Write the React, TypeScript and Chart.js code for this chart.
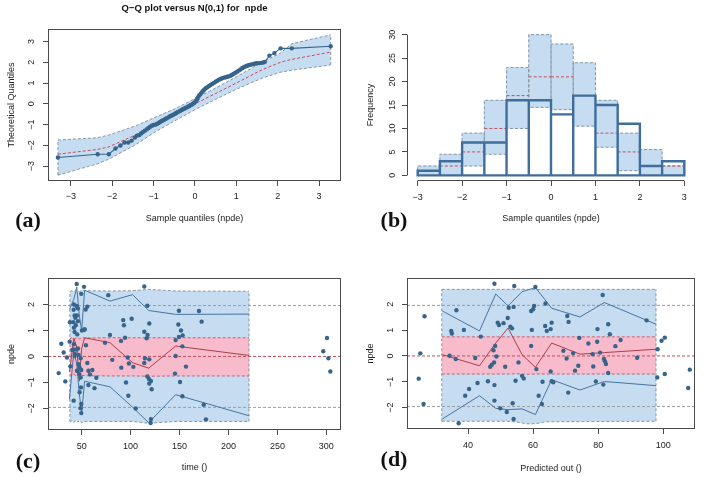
import React, { useEffect, useRef } from 'react';
import { Chart, registerables } from 'chart.js';

Chart.register(...registerables);

// ---------------- DATA ----------------
// (a) Q-Q plot: [sample quantile (npde), theoretical quantile]
const qqPoints: number[][] = [
  [-3.31, -2.58], [-2.35, -2.42], [-2.08, -2.42], [-1.92, -2.15], [-1.80, -2.00], [-1.70, -1.86], [-1.61, -1.86],
  [-1.53, -1.77], [-1.45, -1.62], [-1.40, -1.53], [-1.34, -1.50], [-1.30, -1.42], [-1.26, -1.36], [-1.21, -1.29],
  [-1.16, -1.22], [-1.12, -1.16], [-1.08, -1.10], [-1.04, -1.05], [-1.00, -1.02], [-0.96, -1.00], [-0.92, -0.97],
  [-0.88, -0.92], [-0.85, -0.88], [-0.81, -0.84], [-0.78, -0.80], [-0.74, -0.76], [-0.71, -0.72], [-0.68, -0.69],
  [-0.64, -0.65], [-0.61, -0.61], [-0.58, -0.58], [-0.55, -0.55], [-0.51, -0.51], [-0.48, -0.47], [-0.45, -0.44],
  [-0.42, -0.40], [-0.38, -0.36], [-0.35, -0.33], [-0.32, -0.29], [-0.29, -0.26], [-0.26, -0.23], [-0.23, -0.20],
  [-0.20, -0.17], [-0.17, -0.14], [-0.14, -0.11], [-0.11, -0.07], [-0.08, -0.04], [-0.05, 0.00], [-0.02, 0.04],
  [0.01, 0.10], [0.03, 0.16], [0.05, 0.22], [0.07, 0.29], [0.09, 0.36], [0.11, 0.42], [0.14, 0.49], [0.17, 0.56],
  [0.20, 0.63], [0.23, 0.69], [0.26, 0.75], [0.30, 0.80], [0.34, 0.86], [0.38, 0.91], [0.42, 0.96], [0.46, 1.01],
  [0.50, 1.06], [0.54, 1.11], [0.58, 1.16], [0.62, 1.20], [0.66, 1.23], [0.70, 1.26], [0.74, 1.28], [0.78, 1.30],
  [0.82, 1.32], [0.86, 1.35], [0.90, 1.40], [0.94, 1.45], [0.98, 1.50], [1.02, 1.55], [1.06, 1.60], [1.10, 1.65],
  [1.14, 1.71], [1.18, 1.76], [1.22, 1.80], [1.26, 1.83], [1.30, 1.86], [1.34, 1.88], [1.38, 1.90], [1.42, 1.92],
  [1.46, 1.94], [1.50, 1.95], [1.55, 1.96], [1.60, 1.97], [1.65, 1.99], [1.69, 2.02], [1.80, 2.32], [1.92, 2.44],
  [2.07, 2.67], [2.34, 2.67], [3.28, 2.77],
];
const qqBandX = [-3.31, -2.35, -2.08, -1.42, -1.0, -0.5, 0, 0.5, 1.0, 1.6, 2.07, 2.34, 3.28];
const qqBandLo = [-3.43, -2.88, -2.66, -1.95, -1.40, -0.83, -0.28, 0.22, 0.70, 1.22, 1.52, 1.62, 1.87];
const qqBandMed = [-2.42, -2.19, -2.07, -1.48, -1.05, -0.53, 0.0, 0.50, 1.00, 1.62, 2.00, 2.14, 2.49];
const qqBandHi = [-1.74, -1.63, -1.50, -1.05, -0.68, -0.25, 0.25, 0.76, 1.30, 1.97, 2.45, 2.89, 3.32];
const qqTicks = [-3, -2, -1, 0, 1, 2, 3];

// (b) histogram of npde
const histEdges = [-3, -2.5, -2, -1.5, -1, -0.5, 0, 0.5, 1, 1.5, 2, 2.5, 3];
const histCounts = [1, 3, 7, 7, 16, 16, 13, 17, 15, 11, 2, 3];
const histPiLo = [0, 0, 2, 4.5, 10, 14.5, 14, 10.5, 6, 1, 0, 0];
const histPiMed = [1, 2, 5, 10, 17, 21, 21, 17, 9, 5, 2, 2];
const histPiHi = [2, 4.5, 9, 16, 23, 30, 28, 24, 16, 9, 5.5, 2];
const histTicksX = [-3, -2, -1, 0, 1, 2, 3];
const histTicksY = [0, 5, 10, 15, 20, 25, 30];

// (c) npde vs time: [time, npde]
const timePoints: number[][] = [
  [77.2, 2.36], [73.8, 0.53], [78.9, 0.83], [81.3, -0.13], [92.5, 1.40], [93.2, 1.20], [101.1, 1.45], [94.3, 0.72],
  [90.2, 0.60], [97.0, -0.04], [98.3, -0.27], [102.8, -0.40], [90.5, -0.43], [95.3, -1.00], [97.7, -1.51], [105.2, -2.00],
  [114.0, 2.69], [117.1, 1.95], [119.1, 1.27], [114.0, 0.95], [117.4, 0.83], [116.4, 0.70], [114.7, -0.07], [119.1, -0.11],
  [114.0, -0.25], [117.1, -0.77], [118.8, -0.87], [120.8, -0.94], [119.1, -1.04], [121.5, -1.26], [120.8, -2.41], [120.5, -2.56],
  [149.4, 1.76], [148.8, 1.23], [151.5, 1.00], [153.2, 0.81], [149.4, 0.75], [146.0, 0.63], [152.9, 0.39], [146.0, 0.02],
  [156.6, -0.39], [145.4, -0.66], [150.5, -0.98], [152.9, -1.53], [169.9, 1.75], [172.6, 1.34], [174.7, -1.86], [177.0, -2.42],
  [296.9, 0.20], [300.7, 0.71], [302.1, -0.07], [304.1, -0.58],
  [29.2, 0.49], [31.6, 0.15], [35.0, -0.04], [26.5, -0.64], [33.3, -0.96], [55.8, 1.92], [54.1, 1.81], [53.1, 1.04],
  [54.4, 0.43], [55.8, -0.25], [56.9, -0.55], [58.5, -0.69], [60.9, -0.52], [65.0, -0.82], [56.9, -1.10], [63.1, -1.22],
  [44.9, 2.79], [52.4, 2.68], [49.6, 2.41], [42.1, 2.00], [44.9, 1.94], [46.2, 1.85], [41.8, 1.80], [42.8, 1.58],
  [45.2, 1.58], [43.5, 1.49], [41.5, 1.32], [38.0, 1.32], [46.2, 1.36], [42.1, 1.11], [50.3, 1.00], [52.7, 1.04],
  [42.8, 0.94], [37.7, 0.57], [42.1, 0.47], [46.2, 0.31], [41.8, 0.27], [44.9, 0.27], [42.8, 0.02], [46.9, 0.06],
  [49.0, -0.07], [46.9, -0.30], [47.9, -0.43], [45.2, -0.55], [47.6, -0.68], [49.6, -0.52], [49.0, -0.81], [49.3, -1.19],
  [47.9, -1.38], [49.6, -1.83], [48.9, -1.99], [49.6, -2.18], [41.8, -1.70], [38.5, -0.38], [44.0, 1.20], [45.5, 0.85],
  [43.0, 0.10], [40.5, 0.25],
];
const cBandX = [38, 40, 42, 44, 46, 48, 50, 53, 79, 102, 118, 147, 221];
const cBlueHi = [2.50, 2.53, 2.49, 2.55, 2.51, 2.49, 2.56, 2.53, 2.52, 2.53, 2.58, 2.52, 2.51];
const cBlueLo = [-2.52, -2.47, -2.55, -2.44, -2.52, -2.47, -2.56, -2.50, -2.50, -2.50, -2.57, -2.50, -2.50];
const cPinkHi = [0.68, 0.72, 0.65, 0.71, 0.73, 0.68, 0.72, 0.71, 0.72, 0.72, 0.72, 0.72, 0.72];
const cPinkLo = [-0.70, -0.76, -0.68, -0.74, -0.70, -0.76, -0.72, -0.74, -0.75, -0.75, -0.76, -0.75, -0.75];
const cLineX = [37.5, 42, 45, 47.5, 50, 53, 79, 102, 118.5, 146, 221];
const cUpper = [1.81, 2.2, 2.67, 1.6, 1.0, 2.55, 2.13, 2.38, 1.77, 1.62, 1.63];
const cLower = [-1.65, 0.2, -0.3, -1.4, -2.2, -0.95, -1.17, -1.95, -2.55, -1.47, -2.28];
const cMedian = [-0.6, 0.7, 0.35, -0.95, 0.3, 0.72, 0.53, -0.24, -0.45, 0.40, 0.04];
const cTicksX = [50, 100, 150, 200, 250, 300];

// (d) npde vs predicted: [pred, npde]
const predPoints: number[][] = [
  [26.6, 1.54], [25.3, 0.10], [24.8, -0.88], [26.3, -1.86], [36.4, 1.77], [34.8, 0.97], [35.0, 0.87], [38.7, 1.01],
  [36.2, -0.12], [34.3, 0.01], [40.3, -1.28], [39.1, -1.54], [37.1, -2.61], [42.2, -0.08], [43.9, 0.75], [42.9, -1.05],
  [46.1, -0.98], [48.1, -1.13], [46.8, -0.42], [47.3, -0.34], [48.0, -0.25], [48.7, -0.02], [47.8, 0.22], [48.3, 0.39],
  [48.1, 2.80], [49.1, 1.29], [49.5, 1.20], [50.9, 1.27], [52.2, 1.47], [48.1, -1.73], [49.9, -2.03], [51.9, -2.17],
  [53.7, -1.83], [51.4, -0.42], [53.0, 1.13], [53.5, 1.07], [52.5, 1.87], [54.0, 1.90], [54.2, 2.71], [54.6, -0.96],
  [55.5, -0.25], [56.6, -0.77], [57.1, -0.87], [54.0, -2.44], [59.4, 0.39], [59.6, 1.01], [59.4, 1.74], [60.0, 1.81],
  [60.3, 1.94], [60.7, 2.67], [61.0, -0.51], [61.7, -1.54], [62.7, -1.86], [62.9, -1.00], [63.8, 2.03], [63.7, 1.16],
  [64.2, 0.97],
  [65.7, 1.29], [65.4, 1.04], [65.7, -0.98], [66.2, -1.02], [65.4, -0.60], [69.3, 0.20], [70.5, 1.55], [70.9, 1.32],
  [70.3, -0.10], [72.3, 0.11], [72.9, -0.57], [70.8, -1.42], [73.9, -0.38], [74.2, 0.70], [77.0, 0.48], [78.3, 0.07],
  [78.5, -0.41], [79.7, 0.55], [79.8, 1.04], [79.3, -0.99], [80.6, 0.13], [81.4, 2.36], [81.8, -0.12], [82.1, -0.21],
  [82.4, -0.31], [83.1, 1.23], [83.6, 0.84], [83.1, -0.66], [81.6, -1.11], [85.3, 0.38], [86.9, 0.62], [92.0, -0.07],
  [94.9, 1.38], [98.3, 0.26], [98.2, -0.83], [99.5, 0.59], [100.5, 0.71], [100.5, -0.70], [107.7, -1.24], [108.2, -0.53],
];
const dBandX = [31.9, 45, 52, 55, 58, 61, 64, 97.8];
const dBlueHi = [2.58, 2.58, 2.58, 2.59, 2.58, 2.57, 2.58, 2.58];
const dBlueLo = [-2.53, -2.53, -2.53, -2.56, -2.63, -2.62, -2.55, -2.53];
const dPinkHi = [0.74, 0.74, 0.74, 0.74, 0.74, 0.74, 0.74, 0.74];
const dPinkLo = [-0.70, -0.70, -0.70, -0.69, -0.71, -0.70, -0.70, -0.70];
const dLineX = [32.1, 43.5, 48.5, 52.3, 56.6, 60.7, 65.7, 74.4, 81.9, 97.8];
const dUpper = [1.74, 0.97, 2.40, 1.94, 2.49, 2.65, 1.85, 1.51, 2.07, 1.23];
const dLower = [-2.44, -1.54, -2.03, -2.08, -2.05, -2.27, -0.92, -1.32, -0.99, -1.15];
const dMedian = [0.05, -0.38, 0.50, 1.08, 0.05, -0.44, 0.50, 0.07, 0.13, 0.26];
const dTicksX = [40, 60, 80, 100];

const npdeTicks = [-2, -1, 0, 1, 2];
const refLevels = [-1.96, 1.96];

// ---------------- STYLE ----------------
const FONT = "'Liberation Sans', Arial, Helvetica, sans-serif";
const PT = '#36648B';
const BLUE_FILL = '#C5DCF1';
const PINK_FILL = '#F8BBCB';
const EDGE_GRAY = '#8796A6';
const REF_GRAY = '#9C9C9C';
const RED_DASH = '#C44E5A';
const PINK_EDGE = '#CF5F70';
const RED_LINE = '#A8404C';
const BLUE_LINE = '#4A74A0';
const HIST_LINE = '#3F6E9C';
const AXIS = '#4a4a4a';
const DASH = [3, 2];

const fmt = (v: number) => (v < 0 ? '\u2212' + String(Math.abs(v)) : String(v));
const pts = (xs: number[], ys: number[]) => xs.map((x, i) => ({ x, y: ys[i] }));
const tuples = (arr: number[][]) => arr.map(([x, y]) => ({ x, y }));
const edgesOf = (xs: number[], lo: number[], hi: number[]) => {
  const n = xs.length - 1;
  return [
    { x: xs[0], y: lo[0] }, { x: xs[0], y: hi[0] }, { x: xs[0], y: null },
    { x: xs[n], y: lo[n] }, { x: xs[n], y: hi[n] },
  ];
};
const hLines = (levels: number[], xmin: number, xmax: number) => {
  const out: any[] = [];
  levels.forEach((v, i) => {
    if (i > 0) out.push({ x: xmin, y: null });
    out.push({ x: xmin, y: v }, { x: xmax, y: v });
  });
  return out;
};

function lineDS(data: any[], color: string, extra: any = {}) {
  return {
    type: 'line', data, borderColor: color, borderWidth: 1, pointRadius: 0, pointHoverRadius: 0,
    fill: false, tension: 0, spanGaps: false, ...extra,
  };
}
function pointDS(data: any[]) {
  return {
    type: 'line', data, showLine: false, pointRadius: 2.2, pointHoverRadius: 0, pointStyle: 'circle',
    pointBackgroundColor: PT, pointBorderColor: PT, pointBorderWidth: 0, order: 0,
  };
}

function rAxis(cfg: any) {
  const { min, max, ticks, axis, size, title, titlePad, labelPad } = cfg;
  const isY = axis === 'y';
  return {
    type: 'linear',
    min, max,
    offset: false,
    afterBuildTicks: (s: any) => { s.ticks = ticks.map((v: number) => ({ value: v })); },
    afterFit: (s: any) => { if (isY) s.width = size; else s.height = size; },
    grid: {
      display: true, offset: false, drawOnChartArea: false, drawTicks: true,
      tickLength: 5, tickWidth: 1, tickColor: AXIS, color: AXIS,
    },
    border: { display: false },
    ticks: {
      color: '#222', font: { family: FONT, size: 9 }, padding: labelPad, autoSkip: false,
      callback: (v: number) => fmt(v),
      ...(isY ? { minRotation: 90, maxRotation: 90, crossAlign: 'center' } : { minRotation: 0, maxRotation: 0 }),
    },
    title: {
      display: true, text: title, color: '#222', font: { family: FONT, size: 9 },
      padding: isY ? { top: titlePad, bottom: 0 } : { top: 0, bottom: titlePad },
    },
  };
}

const boxPlugin = {
  id: 'rBox',
  afterDatasetsDraw(chart: any) {
    const { ctx, chartArea: a } = chart;
    ctx.save();
    ctx.strokeStyle = AXIS;
    ctx.lineWidth = 1;
    ctx.strokeRect(Math.round(a.left) + 0.5, Math.round(a.top) + 0.5, Math.round(a.right - a.left) - 1, Math.round(a.bottom - a.top) - 1);
    ctx.restore();
  },
};

const histAxesPlugin = {
  id: 'rAxes',
  afterDraw(chart: any) {
    const { ctx, chartArea: a, scales } = chart;
    const sx = scales.x, sy = scales.y;
    ctx.save();
    ctx.strokeStyle = AXIS;
    ctx.lineWidth = 1;
    ctx.beginPath();
    const lx = Math.round(a.left) + 0.5;
    ctx.moveTo(lx, sy.getPixelForValue(histTicksY[0]));
    ctx.lineTo(lx, sy.getPixelForValue(histTicksY[histTicksY.length - 1]));
    const by = Math.round(a.bottom) - 0.5;
    ctx.moveTo(sx.getPixelForValue(histTicksX[0]), by);
    ctx.lineTo(sx.getPixelForValue(histTicksX[histTicksX.length - 1]), by);
    ctx.stroke();
    ctx.restore();
  },
};

const baseOptions = (padding: any) => ({
  responsive: false,
  maintainAspectRatio: false,
  animation: false,
  events: [],
  layout: { padding },
  plugins: { legend: { display: false }, tooltip: { enabled: false } },
});

// ---------------- CONFIGS ----------------
function configA() {
  const o: any = baseOptions({ left: 0, right: 13, top: 0, bottom: 0 });
  o.plugins.title = {
    display: true, fullSize: false, text: 'Q\u2212Q plot versus N(0,1) for  npde', color: '#111',
    font: { family: FONT, size: 9.5, weight: 'bold' }, padding: { top: 3, bottom: 14.6 },
  };
  o.scales = {
    x: rAxis({ min: -3.55, max: 3.53, ticks: qqTicks, axis: 'x', size: 58, title: 'Sample quantiles (npde)', titlePad: 14.6, labelPad: 5.5 }),
    y: rAxis({ min: -3.71, max: 3.60, ticks: qqTicks, axis: 'y', size: 48, title: 'Theoretical Quantiles', titlePad: 6.3, labelPad: 6.2 }),
  };
  return {
    type: 'line',
    data: {
      datasets: [
        { ...pointDS(tuples(qqPoints)), showLine: true, borderColor: PT, borderWidth: 1.1 },
        lineDS(pts(qqBandX, qqBandMed), RED_DASH, { borderDash: DASH, order: 1 }),
        lineDS(pts(qqBandX, qqBandHi), EDGE_GRAY, { borderDash: DASH, fill: '+1', backgroundColor: BLUE_FILL, order: 3 }),
        lineDS(pts(qqBandX, qqBandLo), EDGE_GRAY, { borderDash: DASH, order: 2 }),
        lineDS(edgesOf(qqBandX, qqBandLo, qqBandHi), EDGE_GRAY, { borderDash: DASH, order: 2 }),
      ],
    },
    options: o,
    plugins: [boxPlugin],
  };
}

function configB() {
  const o: any = baseOptions({ left: 5, right: 13, top: 29, bottom: 0 });
  const xAxis: any = rAxis({ min: -3.24, max: 3.24, ticks: histTicksX, axis: 'x', size: 58, title: 'Sample quantiles (npde)', titlePad: 14.6, labelPad: 5.8 });
  const yAxis: any = rAxis({ min: -1.2, max: 31.2, ticks: histTicksY, axis: 'y', size: 48, title: 'Frequency', titlePad: 6.3, labelPad: 4.7 });
  o.scales = { x: xAxis, y: yAxis };

  const centers = histCounts.map((_, i) => (histEdges[i] + histEdges[i + 1]) / 2);
  const obsOutline: any[] = [];
  const bandOutline: any[] = [];
  const medSegs: any[] = [];
  histCounts.forEach((c, i) => {
    const xl = histEdges[i], xr = histEdges[i + 1];
    obsOutline.push({ x: xl, y: 0 }, { x: xl, y: c }, { x: xr, y: c }, { x: xr, y: 0 }, { x: xl, y: 0 }, { x: xl, y: null });
    bandOutline.push(
      { x: xl, y: histPiLo[i] }, { x: xl, y: histPiHi[i] }, { x: xr, y: histPiHi[i] },
      { x: xr, y: histPiLo[i] }, { x: xl, y: histPiLo[i] }, { x: xl, y: null },
    );
    medSegs.push({ x: xl, y: histPiMed[i] }, { x: xr, y: histPiMed[i] }, { x: xr, y: null });
  });

  return {
    type: 'line',
    data: {
      datasets: [
        lineDS(obsOutline, HIST_LINE, { borderWidth: 2.4, borderJoinStyle: 'miter', borderCapStyle: 'square', order: 0 }),
        lineDS(medSegs, RED_DASH, { borderDash: DASH, order: 1 }),
        lineDS(bandOutline, EDGE_GRAY, { borderDash: DASH, order: 2 }),
        {
          type: 'bar',
          data: centers.map((x, i) => ({ x, y: [histPiLo[i], histPiHi[i]] })),
          backgroundColor: BLUE_FILL, borderWidth: 0, barPercentage: 1, categoryPercentage: 1, grouped: false, order: 3,
        },
      ],
    },
    options: o,
    plugins: [histAxesPlugin],
  };
}

function scatterBandConfig(p: any) {
  const o: any = baseOptions(p.padding);
  o.scales = {
    x: rAxis({ min: p.xMin, max: p.xMax, ticks: p.xTicks, axis: 'x', size: p.xSize, title: p.xTitle, titlePad: p.xTitlePad, labelPad: 5.8 }),
    y: rAxis({ min: -2.83, max: 3.02, ticks: npdeTicks, axis: 'y', size: 48, title: 'npde', titlePad: 6.3, labelPad: 6.2 }),
  };
  return {
    type: 'line',
    data: {
      datasets: [
        pointDS(tuples(p.points)),
        lineDS(pts(p.lineX, p.upper), BLUE_LINE, { order: 1 }),
        lineDS(pts(p.lineX, p.lower), BLUE_LINE, { order: 1 }),
        lineDS(pts(p.lineX, p.median), RED_LINE, { order: 1 }),
        lineDS(hLines(refLevels, p.xMin, p.xMax), REF_GRAY, { borderDash: DASH, order: 2 }),
        lineDS(hLines([0], p.xMin, p.xMax), RED_DASH, { borderDash: DASH, order: 2 }),
        lineDS(pts(p.bandX, p.pinkHi), PINK_EDGE, { borderDash: DASH, fill: '+1', backgroundColor: PINK_FILL, order: 4 }),
        lineDS(pts(p.bandX, p.pinkLo), PINK_EDGE, { borderDash: DASH, order: 3 }),
        lineDS(pts(p.bandX, p.blueHi), EDGE_GRAY, { borderDash: DASH, fill: '+1', backgroundColor: BLUE_FILL, order: 6 }),
        lineDS(pts(p.bandX, p.blueLo), EDGE_GRAY, { borderDash: DASH, order: 5 }),
        lineDS(edgesOf(p.bandX, p.blueLo, p.blueHi), EDGE_GRAY, { borderDash: DASH, order: 3 }),
      ],
    },
    options: o,
    plugins: [boxPlugin],
  };
}

function configC() {
  return scatterBandConfig({
    padding: { left: 0, right: 13, top: 39, bottom: 0 },
    xMin: 15.6, xMax: 315, xTicks: cTicksX, xSize: 48, xTitle: 'time ()', xTitlePad: 4.6,
    points: timePoints, lineX: cLineX, upper: cUpper, lower: cLower, median: cMedian,
    bandX: cBandX, blueHi: cBlueHi, blueLo: cBlueLo, pinkHi: cPinkHi, pinkLo: cPinkLo,
  });
}

function configD() {
  return scatterBandConfig({
    padding: { left: 5, right: 13, top: 39, bottom: 0 },
    xMin: 21.2, xMax: 109.8, xTicks: dTicksX, xSize: 49, xTitle: 'Predicted out ()', xTitlePad: 4.3,
    points: predPoints, lineX: dLineX, upper: dUpper, lower: dLower, median: dMedian,
    bandX: dBandX, blueHi: dBlueHi, blueLo: dBlueLo, pinkHi: dPinkHi, pinkLo: dPinkLo,
  });
}

// ---------------- COMPONENTS ----------------
function Panel({ make, left, top }: { make: () => any; left: number; top: number }) {
  const ref = useRef<HTMLCanvasElement | null>(null);
  useEffect(() => {
    if (!ref.current) return;
    const chart = new Chart(ref.current, make());
    return () => chart.destroy();
  }, []);
  return (
    <canvas
      ref={ref}
      width={354}
      height={239}
      style={{ position: 'absolute', left, top, width: 354, height: 239 }}
    />
  );
}

function Tag({ text, x, y }: { text: string; x: number; y: number }) {
  return (
    <div
      style={{
        position: 'absolute', left: x, top: y, transform: 'translate(-50%, -50%)',
        fontFamily: "'Liberation Serif', 'DejaVu Serif', serif", fontSize: 22, fontWeight: 'bold',
        lineHeight: 1, color: '#111', whiteSpace: 'nowrap',
      }}
    >
      {text}
    </div>
  );
}

export default function App() {
  return (
    <div style={{ position: 'absolute', left: 0, top: 0, width: 708, height: 478, background: '#fff', overflow: 'hidden' }}>
      <Panel make={configA} left={0} top={0} />
      <Panel make={configB} left={354} top={0} />
      <Panel make={configC} left={0} top={239} />
      <Panel make={configD} left={354} top={239} />
      <Tag text="(a)" x={28} y={220} />
      <Tag text="(b)" x={394} y={220} />
      <Tag text="(c)" x={28} y={461} />
      <Tag text="(d)" x={394} y={459} />
    </div>
  );
}
